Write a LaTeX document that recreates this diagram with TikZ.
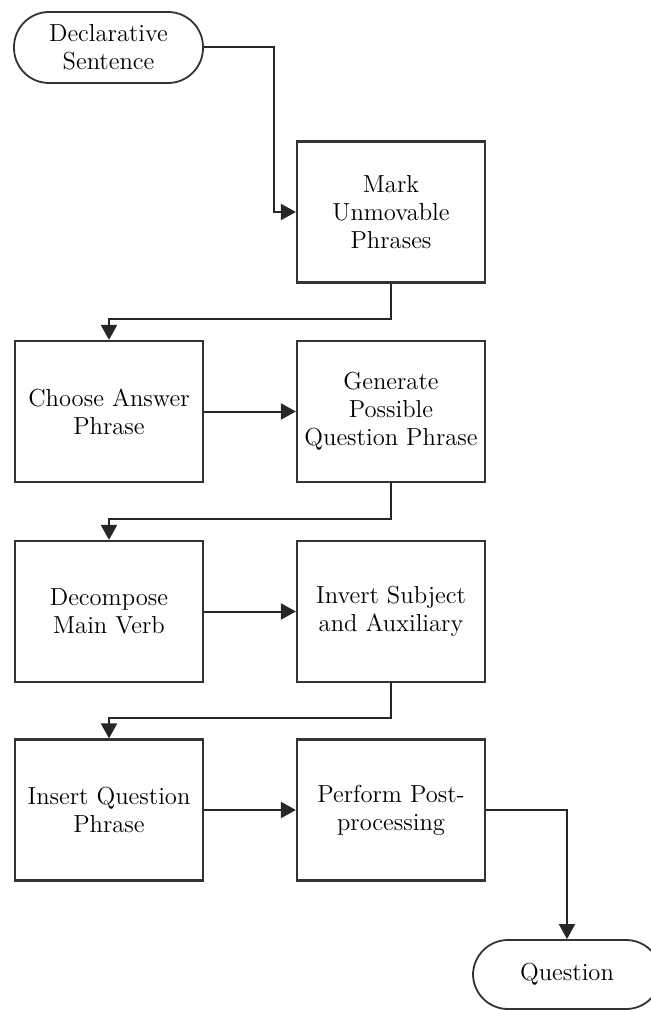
\documentclass[tikz,border=0pt]{standalone}
\usetikzlibrary{arrows.meta}
\begin{document}
\begin{tikzpicture}[x=0.5pt,y=-0.5pt,
  every node/.style={font=\fontsize{12.3}{14}\selectfont, align=center, text=black},
  procbox/.style={draw=black!80, line width=1.1pt, minimum width=94pt, minimum height=70.5pt, inner sep=0pt},
  termbox/.style={draw=black!80, line width=0.9pt, minimum width=94.5pt, minimum height=35.5pt, rounded corners=17.5pt, inner sep=0pt},
  arr/.style={draw=black!85, line width=1pt, -{Triangle[length=7.5pt,width=8pt]}}
]
\useasboundingbox (0,0) rectangle (651,1010);
\node[termbox] (start) at (108.5,47.5) {Declarative\\Sentence};
\node[procbox] (mark) at (391,212) {Mark\\Unmovable\\Phrases};
\node[procbox] (choose) at (109,411.5) {Choose Answer\\Phrase};
\node[procbox] (gen) at (391,411.5) {Generate\\Possible\\Question Phrase};
\node[procbox] (decomp) at (109,611.5) {Decompose\\Main Verb};
\node[procbox] (invert) at (391,611.5) {Invert Subject\\and Auxiliary};
\node[procbox] (insert) at (109,810) {Insert Question\\Phrase};
\node[procbox] (perform) at (391,810) {Perform Post-\\processing};
\node[termbox, minimum width=94pt, minimum height=34.5pt] (question) at (567,974.5) {Question};

\draw[arr] (start.east) -- ++(70,0) |- (mark.west);
\draw[arr] (mark.south) -- ++(0,35) -| (choose.north);
\draw[arr] (choose.east) -- (gen.west);
\draw[arr] (gen.south) -- ++(0,36) -| (decomp.north);
\draw[arr] (decomp.east) -- (invert.west);
\draw[arr] (invert.south) -- ++(0,35) -| (insert.north);
\draw[arr] (insert.east) -- (perform.west);
\draw[arr] (perform.east) -| (question.north);
\end{tikzpicture}
\end{document}
